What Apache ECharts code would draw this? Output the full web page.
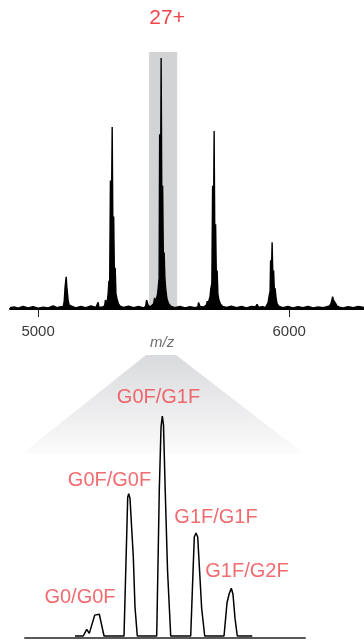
<!DOCTYPE html>
<html>
<head>
<meta charset="utf-8">
<script src="https://cdn.jsdelivr.net/npm/echarts@6/dist/echarts.min.js"></script>
<style>
html,body{margin:0;padding:0;background:#fff;}
#chart{width:364px;height:643px;}
</style>
</head>
<body>
<div id="chart"></div>
<script>
// ---------- Data: full mass spectrum (m/z, relative intensity %) ----------
const xRange = [4888, 6298];
const xTicks = [5000, 6000];
const chargeLabel = '27+';
const windowMz = [5442, 5554];

const noiseA = [[4888,0.5],[4905,0.8],[4920,0.3],[4940,1.0],[4960,0.4],[4980,0.9],[5000,0.3],[5020,0.7],[5040,0.4],[5060,1.2],[5075,0.5],[5090,0.9]];
const z29 = [[5100,1.0],[5104,3],[5107,8],[5110,11],[5112,12.5],[5114,9],[5117,6],[5120,3],[5124,1.5],[5130,0.8]];
const noiseB = [[5150,0.4],[5170,1.0],[5190,0.5],[5210,1.2],[5230,0.6],[5236,0.8],[5239,2.6],[5242,0.8],[5255,0.7],[5265,1.2],[5268,3.5],[5271,4.0],[5274,2.0]];
const z28 = [[5276,1.5],[5279,6],[5282,11],[5285,9],[5288,50],[5291,25],[5295,70.8],[5298,28],[5301,36],[5304,12],[5307,16],[5310,6],[5314,4],[5320,2],[5328,1]];
const noiseC = [[5340,0.6],[5360,1.1],[5380,0.5],[5400,1.0],[5420,0.4],[5428,1.0],[5432,3.5],[5435,3.9],[5438,1.5],[5446,0.8],[5452,1.2],[5460,2.0],[5464,4.3],[5468,2.5]];
const z27 = [[5472,3],[5476,6],[5479,9],[5482,12],[5484,68],[5487,30],[5490,97.7],[5493,35],[5496,48],[5499,18],[5502,22],[5505,12],[5508,8],[5513,4],[5520,2],[5530,1]];
const noiseD = [[5545,0.5],[5565,1.0],[5585,0.4],[5605,0.9],[5625,0.5],[5636,0.8],[5639,2.5],[5642,3.0],[5645,1.0],[5660,0.8],[5670,1.5],[5674,3.0],[5677,2.0]];
const z26 = [[5681,2.5],[5685,5],[5688,8],[5692,10],[5695,48],[5698,22],[5701,69.3],[5704,24],[5707,33],[5710,11],[5713,15],[5716,6],[5720,3.5],[5726,2],[5735,1]];
const noiseE = [[5750,0.6],[5770,1.1],[5790,0.5],[5810,1.0],[5830,0.4],[5850,1.0],[5866,0.8],[5872,1.8],[5878,0.7],[5895,0.9],[5905,0.5]];
const z25 = [[5912,1.0],[5916,2.5],[5920,5],[5924,7],[5926,19],[5929,12],[5932,26],[5935,13],[5938,15],[5941,7],[5944,8],[5948,4],[5952,2],[5960,1]];
const noiseF = [[5975,0.5],[5995,1.0],[6015,0.4],[6035,0.9],[6055,0.5],[6075,1.0],[6095,0.4],[6115,0.8],[6135,0.5],[6150,0.9],[6160,1.2]];
const z24 = [[6166,2],[6170,3.5],[6173,4.8],[6176,3.5],[6179,4.2],[6182,3.0],[6186,2.0],[6190,1.2],[6200,0.7]];
const noiseG = [[6215,0.4],[6235,0.9],[6255,0.5],[6275,1.0],[6298,0.6]];

// ---------- Data: zoomed 27+ charge state ----------
const zoomRange = [5465.4, 5515.4];
const zoomMz = [5474.33,5475.81,5476.42,5476.88,5477.85,5478.20,5478.67,5479.51,
  5483.08,5483.74,5483.92,5484.15,5484.74,5485.04,5485.45,
  5488.92,5489.38,5489.69,5489.92,5490.13,5490.44,5490.85,5491.42,
  5494.99,5495.63,5495.94,5496.24,5496.95,5497.49,
  5500.94,5501.47,5501.83,5502.24,5502.54,5502.90,5503.31,
  5505.99];
const zoomIntensity = [0,0,3.0,1.2,9.5,9.0,9.9,0,
  0,63,64.7,62.5,36,13.3,0,
  0,66,95,100,96,66,30,0,
  0,45,46.8,45,12.5,0,
  0,15,19,21.7,19,8,0,
  0];
const glycoforms = ['G0/G0F','G0F/G0F','G0F/G1F','G1F/G1F','G1F/G2F'];
const labelMz = [5475.22, 5480.49, 5489.24, 5499.51, 5505.04];
const labelY = [17.7, 70.9, 108.3, 53.8, 29.2];

// ---------- Build ----------
const FONT = '"Liberation Sans", Arial, Helvetica, sans-serif';
const RED = '#ef464c';
const topData = [].concat(noiseA, z29, noiseB, z28, noiseC, z27, noiseD, z26, noiseE, z25, noiseF, z24, noiseG);
const zoomData = zoomMz.map((m, i) => [m, zoomIntensity[i]]);
const labelData = glycoforms.map((g, i) => ({ value: [labelMz[i], labelY[i]], name: g }));

const chart = echarts.init(document.getElementById('chart'), null, { renderer: 'canvas' });
chart.setOption({
  animation: false,
  backgroundColor: '#fff',
  textStyle: { fontFamily: FONT },
  grid: [
    { left: 10, right: 0, top: 52, bottom: 334 },
    { left: 25, right: 59, top: 350, bottom: 5 }
  ],
  xAxis: [
    {
      gridIndex: 0, type: 'value', min: xRange[0], max: xRange[1],
      splitLine: { show: false },
      axisLine: { onZero: false, lineStyle: { color: '#000', width: 2 } },
      axisTick: { show: true, customValues: xTicks, length: 8, lineStyle: { color: '#222', width: 1 } },
      axisLabel: { customValues: xTicks, formatter: v => String(v), fontSize: 15, color: '#3a3a3a', margin: 15, fontFamily: FONT }
    },
    {
      gridIndex: 1, type: 'value', min: zoomRange[0], max: zoomRange[1],
      splitLine: { show: false },
      axisLine: { onZero: false, lineStyle: { color: '#58595b', width: 2 } },
      axisTick: { show: false }, axisLabel: { show: false }
    }
  ],
  yAxis: [
    { gridIndex: 0, type: 'value', min: 0, max: 100, show: false },
    { gridIndex: 1, type: 'value', min: -0.9, max: 130, show: false }
  ],
  graphic: [
    {
      type: 'polygon', z: 0,
      shape: { points: [[146, 355], [176, 355], [303, 453], [23, 453]] },
      style: {
        fill: { type: 'linear', x: 0, y: 0, x2: 0, y2: 1,
          colorStops: [{ offset: 0, color: '#d9dadd' }, { offset: 1, color: '#fbfbfb' }] }
      }
    },
    {
      type: 'text', z: 5, left: 150, top: 335,
      style: { text: 'm/z', font: 'italic 15px ' + FONT, fill: '#6d6e71' }
    }
  ],
  series: [
    {
      type: 'line', xAxisIndex: 0, yAxisIndex: 0, data: topData,
      symbol: 'none', smooth: false, z: 3,
      lineStyle: { color: '#000', width: 1.4 },
      areaStyle: { color: '#000', opacity: 1 },
      markArea: {
        silent: true,
        itemStyle: { color: '#d2d3d5' },
        label: { show: true, position: 'top', distance: 23, offset: [4, 0], formatter: chargeLabel,
                 color: RED, fontSize: 21, fontFamily: FONT },
        data: [[{ xAxis: windowMz[0], yAxis: 0 }, { xAxis: windowMz[1], yAxis: 100 }]]
      }
    },
    {
      type: 'line', xAxisIndex: 1, yAxisIndex: 1, data: zoomData,
      symbol: 'none', smooth: false, z: 3,
      lineStyle: { color: '#000', width: 1.5 }
    },
    {
      type: 'scatter', xAxisIndex: 1, yAxisIndex: 1, data: labelData,
      symbolSize: 0, z: 6, silent: true,
      label: { show: true, position: 'inside', formatter: p => p.name,
               color: RED, fontSize: 20, fontFamily: FONT }
    }
  ]
});
</script>
</body>
</html>
